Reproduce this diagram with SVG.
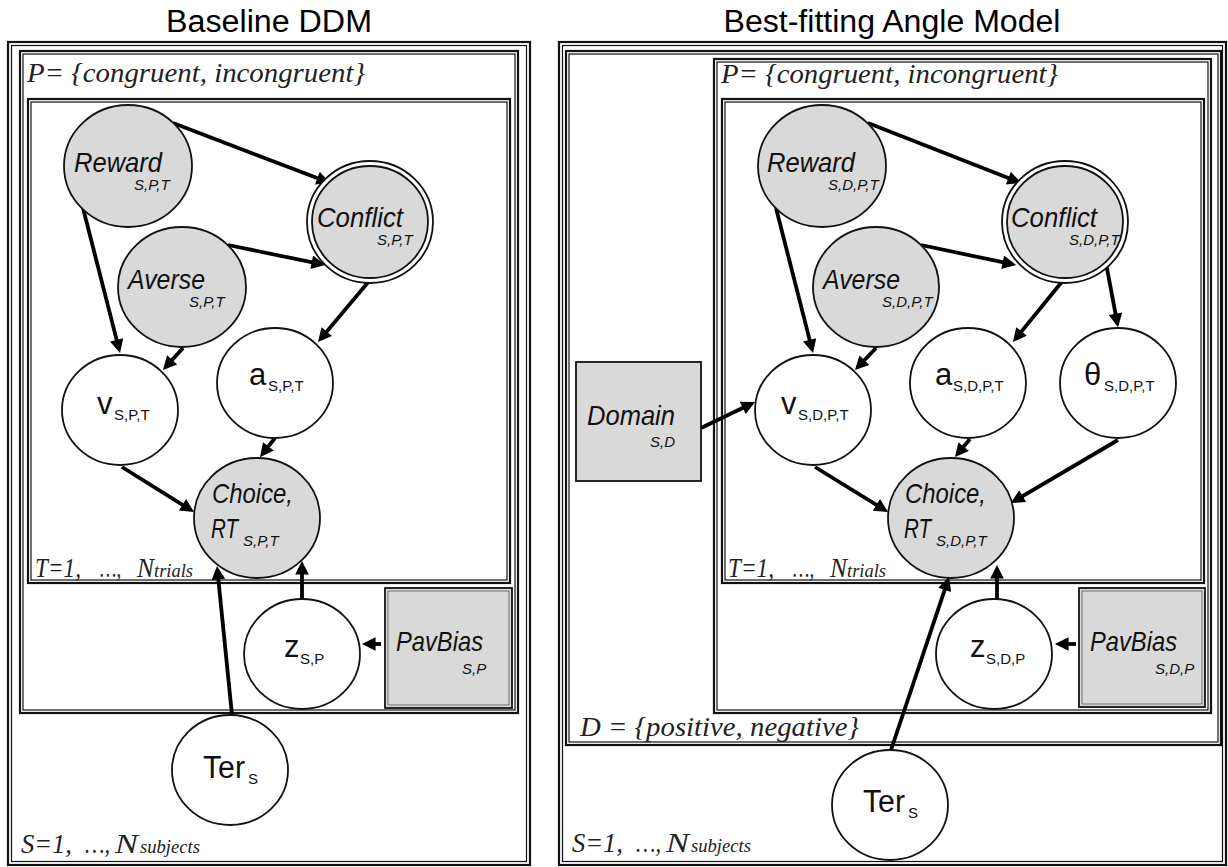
<svg xmlns="http://www.w3.org/2000/svg" width="1228" height="867" viewBox="0 0 1228 867">
<style>
.plate{fill:none;stroke:#111;stroke-width:2.2}
.plin{fill:none;stroke:#111;stroke-width:1.2}
.obs{fill:#d9d9d9;stroke:#111;stroke-width:1.8}
.lat{fill:#fff;stroke:#111;stroke-width:1.8}
.edge{stroke:#000;stroke-width:3.8;fill:none;marker-end:url(#ah)}
.it{font-family:"Liberation Sans",Arial,sans-serif;font-style:italic;font-size:28px;fill:#111}
.its{font-family:"Liberation Sans",Arial,sans-serif;font-style:italic;font-size:15px;fill:#111}
.rg{font-family:"Liberation Sans",Arial,sans-serif;font-size:31px;fill:#111}
.rgs{font-family:"Liberation Sans",Arial,sans-serif;font-size:15px;fill:#111}
.tm{font-family:"Liberation Serif","Times New Roman",serif;font-style:italic;font-size:27px;fill:#222}
.tms{font-family:"Liberation Serif","Times New Roman",serif;font-style:italic;font-size:18px;fill:#222}
.title{font-family:"Liberation Sans",Arial,sans-serif;font-size:31px;fill:#000;text-anchor:middle}
</style>
<defs>
<marker id="ah" viewBox="0 0 10 10" refX="7" refY="5" markerWidth="4.2" markerHeight="3.6" orient="auto" markerUnits="strokeWidth">
<path d="M0,0 L10,5 L0,10 z" fill="#000"/>
</marker>
</defs>
<rect width="1228" height="867" fill="#fff"/>

<text class="title" x="269" y="32" textLength="206" lengthAdjust="spacingAndGlyphs">Baseline DDM</text>
<text class="title" x="892" y="32" textLength="337" lengthAdjust="spacingAndGlyphs">Best-fitting Angle Model</text>

<g id="plates">
<rect class="plate" x="8" y="42" width="522" height="823"/>
<rect class="plin" x="11.5" y="45.5" width="515" height="816"/>
<rect class="plate" x="20" y="51" width="498" height="662"/>
<rect class="plin" x="23" y="54" width="492" height="656"/>
<rect class="plate" x="28" y="99" width="482" height="484"/>
<rect class="plin" x="31" y="102" width="476" height="478"/>
<rect class="plate" x="559" y="42" width="667" height="823"/>
<rect class="plin" x="562.5" y="45.5" width="660" height="816"/>
<rect class="plate" x="566" y="51" width="655" height="694"/>
<rect class="plin" x="569" y="54" width="649" height="688"/>
<rect class="plate" x="714" y="59" width="497" height="654"/>
<rect class="plin" x="717" y="62" width="491" height="648"/>
<rect class="plate" x="722" y="99" width="482" height="484"/>
<rect class="plin" x="725" y="102" width="476" height="478"/>

<text class="tm" x="27" y="82" textLength="338" lengthAdjust="spacingAndGlyphs">P= {congruent, incongruent}</text>
<text class="tm" x="721" y="83" textLength="337" lengthAdjust="spacingAndGlyphs">P= {congruent, incongruent}</text>
<text class="tm" x="580" y="736" textLength="279" lengthAdjust="spacingAndGlyphs">D = {positive, negative}</text>

<text class="tm" y="577"><tspan x="35" textLength="46" lengthAdjust="spacingAndGlyphs">T=1,</tspan><tspan x="100" textLength="21" lengthAdjust="spacingAndGlyphs">…,</tspan><tspan x="137" textLength="17" lengthAdjust="spacingAndGlyphs">N</tspan><tspan class="tms" x="154" textLength="39" lengthAdjust="spacingAndGlyphs">trials</tspan></text>
<text class="tm" y="577"><tspan x="728" textLength="46" lengthAdjust="spacingAndGlyphs">T=1,</tspan><tspan x="793" textLength="21" lengthAdjust="spacingAndGlyphs">…,</tspan><tspan x="830" textLength="17" lengthAdjust="spacingAndGlyphs">N</tspan><tspan class="tms" x="847" textLength="39" lengthAdjust="spacingAndGlyphs">trials</tspan></text>
<text class="tm" y="853"><tspan x="21" textLength="51" lengthAdjust="spacingAndGlyphs">S=1,</tspan><tspan x="85" textLength="25" lengthAdjust="spacingAndGlyphs">…,</tspan><tspan x="115" textLength="23" lengthAdjust="spacingAndGlyphs">N</tspan><tspan class="tms" x="140" textLength="60" lengthAdjust="spacingAndGlyphs">subjects</tspan></text>
<text class="tm" y="852"><tspan x="572" textLength="51" lengthAdjust="spacingAndGlyphs">S=1,</tspan><tspan x="636" textLength="25" lengthAdjust="spacingAndGlyphs">…,</tspan><tspan x="666" textLength="23" lengthAdjust="spacingAndGlyphs">N</tspan><tspan class="tms" x="691" textLength="60" lengthAdjust="spacingAndGlyphs">subjects</tspan></text>
</g>

<g id="connectors">
<line class="edge" x1="173" y1="123" x2="326.3" y2="181.6"/>
<line class="edge" x1="83" y1="208" x2="119" y2="349.1"/>
<line class="edge" x1="228" y1="245" x2="321.1" y2="264.2"/>
<line class="edge" x1="183" y1="348" x2="165.7" y2="367"/>
<line class="edge" x1="370" y1="280" x2="320.6" y2="338.9"/>
<line class="edge" x1="275" y1="438" x2="262.5" y2="453.9"/>
<line class="edge" x1="122" y1="467" x2="190.6" y2="509.9"/>
<line class="edge" x1="232" y1="715" x2="217.4" y2="570"/>
<line class="edge" x1="302" y1="599" x2="302" y2="565"/>
<line class="edge" x1="381" y1="644" x2="366" y2="644"/>
<line class="edge" x1="868" y1="123" x2="1017.3" y2="181.5"/>
<line class="edge" x1="776" y1="208" x2="812" y2="349.1"/>
<line class="edge" x1="921" y1="245" x2="1012.1" y2="264.2"/>
<line class="edge" x1="876" y1="348" x2="857.8" y2="367.1"/>
<line class="edge" x1="1065" y1="278" x2="1015.5" y2="338.9"/>
<line class="edge" x1="1106" y1="263" x2="1117.3" y2="323.1"/>
<line class="edge" x1="970" y1="439" x2="957.6" y2="453.9"/>
<line class="edge" x1="815" y1="467" x2="884.6" y2="509.9"/>
<line class="edge" x1="1118" y1="440" x2="1014.4" y2="501"/>
<line class="edge" x1="701" y1="428" x2="751.4" y2="403.7"/>
<line class="edge" x1="891" y1="750" x2="947.7" y2="580.8"/>
<line class="edge" x1="997" y1="599" x2="997" y2="569"/>
<line class="edge" x1="1076" y1="644" x2="1059" y2="644"/>
</g>

<g id="L-reward">
<ellipse class="obs" cx="128" cy="166" rx="64" ry="61"/>
<text class="it" x="74" y="172" textLength="88" lengthAdjust="spacingAndGlyphs">Reward</text><text class="its" x="134" y="190">S,P,T</text>
</g>
<g id="L-conflict">
<ellipse class="lat" cx="370" cy="222" rx="63" ry="61"/>
<ellipse class="obs" cx="370" cy="222" rx="58" ry="56" stroke-width="1.4"/>
<text class="it" x="317" y="227" textLength="86" lengthAdjust="spacingAndGlyphs">Conflict</text><text class="its" x="377" y="245">S,P,T</text>
</g>
<g id="L-averse">
<ellipse class="obs" cx="182" cy="287" rx="64" ry="60"/>
<text class="it" x="128" y="289" textLength="77" lengthAdjust="spacingAndGlyphs">Averse</text><text class="its" x="189" y="307">S,P,T</text>
</g>
<g id="L-v">
<ellipse class="lat" cx="120" cy="410" rx="58" ry="55"/>
<text class="rg" x="97" y="414">v</text><text class="rgs" x="114" y="420">S,P,T</text>
</g>
<g id="L-a">
<ellipse class="lat" cx="275" cy="383" rx="58" ry="55"/>
<text class="rg" x="249" y="385">a</text><text class="rgs" x="268" y="391">S,P,T</text>
</g>
<g id="L-choice">
<ellipse class="obs" cx="257" cy="518" rx="63" ry="60"/>
<text class="it" x="212" y="503" textLength="81" lengthAdjust="spacingAndGlyphs">Choice,</text>
<text class="it" x="211" y="538" textLength="27" lengthAdjust="spacingAndGlyphs">RT</text><text class="its" x="243" y="546">S,P,T</text>
</g>
<g id="L-z">
<ellipse class="lat" cx="302" cy="654" rx="58" ry="55"/>
<text class="rg" x="284" y="657">z</text><text class="rgs" x="300" y="664">S,P</text>
</g>
<g id="L-pavbias">
<rect class="obs" x="385" y="588" width="127" height="120"/>
<rect x="388" y="591" width="121" height="114" fill="none" stroke="#555" stroke-width="0.8"/>
<text class="it" x="396" y="651" textLength="87" lengthAdjust="spacingAndGlyphs">PavBias</text><text class="its" x="462" y="674">S,P</text>
</g>
<g id="L-ter">
<ellipse class="lat" cx="230" cy="770" rx="58" ry="55"/>
<text class="rg" x="203" y="778" textLength="42" lengthAdjust="spacingAndGlyphs">Ter</text><text class="rgs" x="248" y="784">S</text>
</g>

<g id="R-reward">
<ellipse class="obs" cx="822" cy="166" rx="64" ry="61"/>
<text class="it" x="767" y="172" textLength="88" lengthAdjust="spacingAndGlyphs">Reward</text><text class="its" x="828" y="190">S,D,P,T</text>
</g>
<g id="R-conflict">
<ellipse class="lat" cx="1065" cy="222" rx="63" ry="61"/>
<ellipse class="obs" cx="1065" cy="222" rx="58" ry="56" stroke-width="1.4"/>
<text class="it" x="1011" y="227" textLength="86" lengthAdjust="spacingAndGlyphs">Conflict</text><text class="its" x="1069" y="245">S,D,P,T</text>
</g>
<g id="R-averse">
<ellipse class="obs" cx="876" cy="287" rx="63" ry="60"/>
<text class="it" x="823" y="289" textLength="77" lengthAdjust="spacingAndGlyphs">Averse</text><text class="its" x="882" y="307">S,D,P,T</text>
</g>
<g id="R-v">
<ellipse class="lat" cx="813" cy="410" rx="58" ry="55"/>
<text class="rg" x="781" y="414">v</text><text class="rgs" x="798" y="420">S,D,P,T</text>
</g>
<g id="R-a">
<ellipse class="lat" cx="968" cy="383" rx="58" ry="55"/>
<text class="rg" x="935" y="385">a</text><text class="rgs" x="953" y="391">S,D,P,T</text>
</g>
<g id="R-theta">
<ellipse class="lat" cx="1118" cy="383" rx="58" ry="55"/>
<text class="rg" x="1084" y="385">θ</text><text class="rgs" x="1104" y="391">S,D,P,T</text>
</g>
<g id="R-choice">
<ellipse class="obs" cx="951" cy="518" rx="63" ry="60"/>
<text class="it" x="905" y="503" textLength="81" lengthAdjust="spacingAndGlyphs">Choice,</text>
<text class="it" x="904" y="538" textLength="27" lengthAdjust="spacingAndGlyphs">RT</text><text class="its" x="936" y="546">S,D,P,T</text>
</g>
<g id="R-domain">
<rect class="obs" x="576" y="362" width="125" height="119"/>
<text class="it" x="587" y="425" textLength="88" lengthAdjust="spacingAndGlyphs">Domain</text><text class="its" x="650" y="447">S,D</text>
</g>
<g id="R-z">
<ellipse class="lat" cx="994" cy="654" rx="58" ry="55"/>
<text class="rg" x="970" y="657">z</text><text class="rgs" x="986" y="664">S,D,P</text>
</g>
<g id="R-pavbias">
<rect class="obs" x="1079" y="588" width="126" height="119"/>
<rect x="1082" y="591" width="120" height="113" fill="none" stroke="#555" stroke-width="0.8"/>
<text class="it" x="1090" y="651" textLength="87" lengthAdjust="spacingAndGlyphs">PavBias</text><text class="its" x="1155" y="674">S,D,P</text>
</g>
<g id="R-ter">
<ellipse class="lat" cx="890" cy="805" rx="58" ry="55"/>
<text class="rg" x="863" y="812" textLength="42" lengthAdjust="spacingAndGlyphs">Ter</text><text class="rgs" x="908" y="818">S</text>
</g>
</svg>
